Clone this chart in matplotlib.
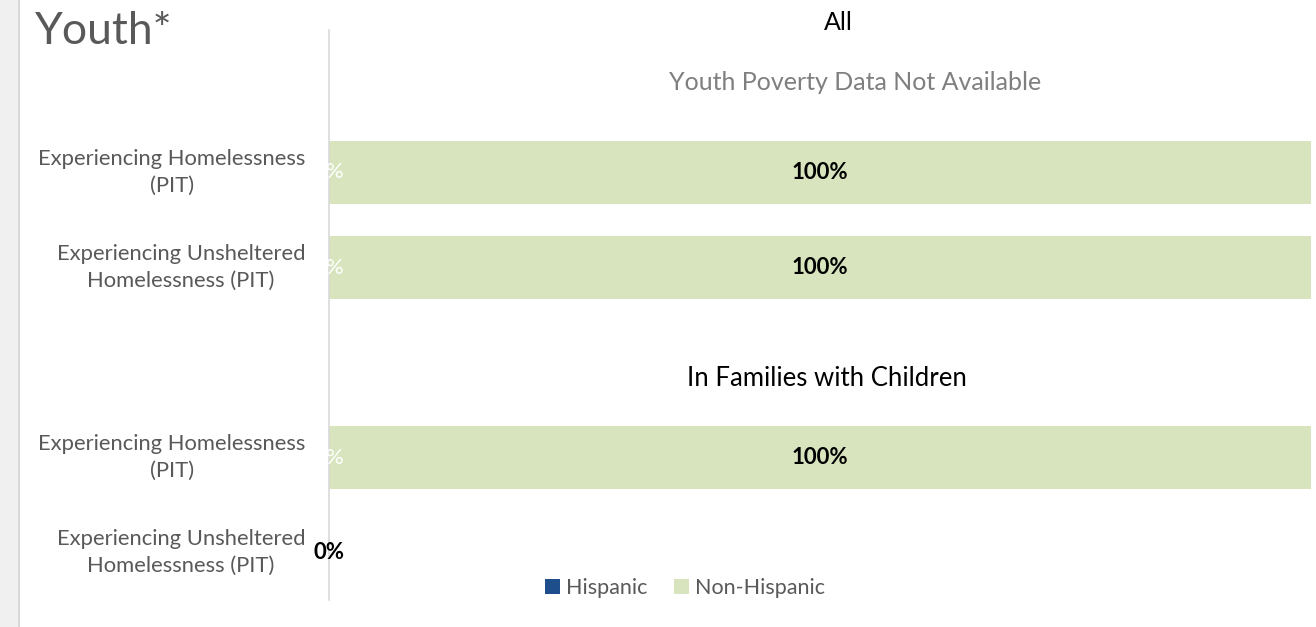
import numpy as np
import matplotlib
matplotlib.use("Agg")
import matplotlib.pyplot as plt
from matplotlib.patches import Rectangle, Patch

plt.rcParams['font.family'] = ['Lato', 'DejaVu Sans']

# rows from top to bottom; blank rows hold the section texts
row_labels = ["",
              "Experiencing Homelessness\n(PIT)",
              "Experiencing Unsheltered\nHomelessness (PIT)",
              "",
              "Experiencing Homelessness\n(PIT)",
              "Experiencing Unsheltered\nHomelessness (PIT)"]
hispanic = [np.nan, 0.0, 0.0, np.nan, 0.0, 0.0]
non_hispanic = [np.nan, 1.0, 1.0, np.nan, 1.0, 0.0]

series_names = ["Hispanic", "Non-Hispanic"]
series_colors = ["#1f4e8c", "#d7e4bd"]
text_gray = "#595959"

W, H = 1316, 627
fig = plt.figure(figsize=(W / 100, H / 100), dpi=100)

# grey strip at the left like the screenshot
fig.patches.append(Rectangle((0, 0), 18 / W, 1, transform=fig.transFigure,
                             facecolor="#f0f0f0", edgecolor="none"))
fig.patches.append(Rectangle((18 / W, 0), 1.5 / W, 1, transform=fig.transFigure,
                             facecolor="#d9d9d9", edgecolor="none"))

ax = fig.add_axes([329 / W, 1 - 600 / H, (1311 - 329) / W, 570 / H])

y = np.arange(len(row_labels))
hisp = np.nan_to_num(hispanic)
non = np.nan_to_num(non_hispanic)
ax.barh(y, hisp, height=0.66, color=series_colors[0])
ax.barh(y, non, left=hisp, height=0.66, color=series_colors[1])

for i in range(len(y)):
    if np.isnan(hispanic[i]):
        continue
    ax.text(hisp[i] / 2, i, f"{hispanic[i]:.0%}", ha="center", va="center",
            color="white", fontsize=16)
    ax.text(hisp[i] + non[i] / 2, i, f"{non_hispanic[i]:.0%}", ha="center",
            va="center", color="black", fontsize=16, fontweight="bold")

ax.set_xlim(0, 1)
ax.set_ylim(len(y) - 0.5, -0.5)
ax.set_yticks(y)
ax.set_yticklabels(row_labels, fontsize=15.8, color=text_gray, linespacing=1.45,
                   va="center")
for lbl in ax.get_yticklabels():
    lbl.set_multialignment("center")
ax.tick_params(axis="y", length=0, pad=17)
ax.set_xticks([])
for s in ["top", "right", "bottom"]:
    ax.spines[s].set_visible(False)
ax.spines["left"].set_color("#d9d9d9")
ax.spines["left"].set_linewidth(1.2)

# section texts
fig.text(838 / W, 1 - 22 / H, "All", ha="center", va="center", fontsize=18, color="black")
ax.text(0.536, 0.05, "Youth Poverty Data Not Available", ha="center", va="center",
        fontsize=18, color="#7f7f7f", transform=ax.get_yaxis_transform())
ax.text(0.507, 3.17, "In Families with Children", ha="center", va="center",
        fontsize=18.5, color="black", transform=ax.get_yaxis_transform())

fig.text(35 / W, 1 - 31 / H, "Youth*", ha="left", va="center", fontsize=32, color=text_gray)

handles = [Patch(facecolor=c, edgecolor="none") for c in series_colors]
fig.legend(handles, series_names, loc="center", bbox_to_anchor=(685 / W, 1 - 588 / H),
           ncol=2, frameon=False, fontsize=15.5, labelcolor=text_gray,
           handlelength=0.7, handleheight=0.7, handletextpad=0.3, columnspacing=1.2)

fig.savefig("out.png", dpi=100)
